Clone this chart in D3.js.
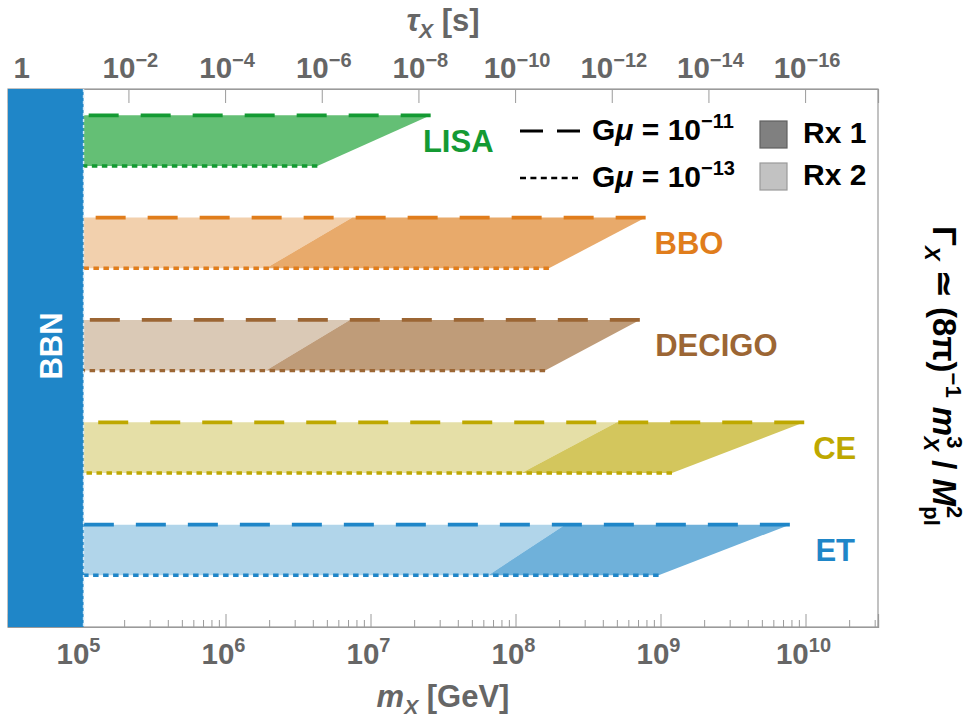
<!DOCTYPE html>
<html><head><meta charset="utf-8">
<script src="https://cdn.jsdelivr.net/npm/d3@7"></script>
<style>
body{margin:0;background:#fff}
text{font-family:"Liberation Sans",Arial,Helvetica,sans-serif;font-weight:bold}
</style></head>
<body><svg id="c" width="969" height="718"></svg>
<script>
// ---------- data ----------
const detectors = ["LISA","BBO","DECIGO","CE","ET"];
// maximal reachable mass [GeV] for Gmu = 1e-11 (top edge) and 1e-13 (bottom edge)
const massMaxTop    = [2.6e7, 7.9e8, 7.2e8, 9.8e9, 7.8e9];
const massMaxBottom = [4.3e6, 1.7e8, 1.6e8, 1.2e9, 9.7e8];
// boundary between Rx 2 (light, lower masses) and Rx 1 (dark, higher masses)
const massSplitTop    = [2.0e4, 7.5e6, 7.2e6, 5.0e8, 2.2e8];
const massSplitBottom = [1.0e4, 1.9e6, 1.9e6, 1.1e8, 6.5e7];
const labelMass = [2.3e7, 9.1e8, 9.2e8, 1.13e10, 1.17e10];
const lineColors  = ["#149a33","#e07d1c","#9c6634","#bea800","#1f86c8"];
const lightFills  = ["#64bf75","#f2d0ad","#dac9b6","#e5dfa7","#b1d5ea"];
const darkFills   = ["#64bf75","#e8aa6b","#bf9c79","#d3c65d","#6fb1da"];
const bbnMass = 1.05e5;
const massDomain = [Math.pow(10,4.5), Math.pow(10,10.5)];
const massTicks = [1e5,1e6,1e7,1e8,1e9,1e10];
const massTickExp = ["5","6","7","8","9","10"];
const tauTicks = [1,1e-2,1e-4,1e-6,1e-8,1e-10,1e-12,1e-14,1e-16];
const tauTickExp = ["","\u22122","\u22124","\u22126","\u22128","\u221210","\u221212","\u221214","\u221216"];
// tau [s] = hbar * 8 pi * Mpl^2 / m^3  (reduced Planck mass)
const tauOf = m => 6.582e-25 * 8*Math.PI * Math.pow(2.435e18,2) / Math.pow(m,3);

// ---------- layout ----------
const L=8, R=878, T=89, B=627;
const svg = d3.select("#c");
const x = d3.scaleLog().domain(massDomain).range([L,R]);
const xTau = d3.scaleLog().domain(massDomain.map(tauOf)).range([L,R]);
const y = d3.scaleBand().domain(detectors).range([T,B])
  .paddingInner(0.505).paddingOuter(0.381).align(0.337);
const bw = y.bandwidth();

svg.append("defs").append("clipPath").attr("id","clip")
  .append("rect").attr("x",L).attr("y",T).attr("width",R-L).attr("height",B-T);

const axisCol = "#9a9a9a", labCol = "#666";

// frame
svg.append("rect").attr("x",L).attr("y",T).attr("width",R-L).attr("height",B-T)
  .attr("fill","none").attr("stroke",axisCol).attr("stroke-width",1.2);

// bottom axis: minor ticks
const minor = [];
for (let e=4;e<=10;e++) for (let k=2;k<=9;k++){ const v=k*Math.pow(10,e); if(v>massDomain[0]&&v<massDomain[1]) minor.push(v); }
const gMinor = svg.append("g").attr("transform",`translate(0,${B})`)
  .call(d3.axisBottom(x).tickValues(minor).tickSize(-7).tickFormat(""));
const gMajor = svg.append("g").attr("transform",`translate(0,${B})`)
  .call(d3.axisBottom(x).tickValues(massTicks).tickSize(-13).tickFormat(""));
const gTop = svg.append("g").attr("transform",`translate(0,${T})`)
  .call(d3.axisTop(xTau).tickValues(tauTicks).tickSize(-14).tickFormat(""));
[gMinor,gMajor,gTop].forEach(g=>{
  g.select(".domain").attr("stroke",axisCol).attr("stroke-width",1.2);
  g.selectAll(".tick line").attr("stroke",axisCol).attr("stroke-width",1);
});

// bottom tick labels
massTicks.forEach((v,i)=>{
  const t = svg.append("text").attr("x",x(v)-2).attr("y",664).attr("text-anchor","middle")
    .attr("fill",labCol).attr("font-size",29.5);
  t.append("tspan").text("10");
  t.append("tspan").attr("dy",-12).attr("font-size",20).text(massTickExp[i]);
});
// top tick labels
tauTicks.forEach((v,i)=>{
  const t = svg.append("text").attr("x",xTau(v)+(i===0?-10:2)).attr("y",78).attr("text-anchor","middle")
    .attr("fill",labCol).attr("font-size",29.5);
  if (i===0) { t.text("1"); return; }
  t.append("tspan").text("10");
  t.append("tspan").attr("dy",-11).attr("font-size",20).text(tauTickExp[i]);
});

// axis titles
const tt = svg.append("text").attr("x",(L+R)/2).attr("y",31).attr("text-anchor","middle")
  .attr("fill",labCol).attr("font-size",31);
tt.append("tspan").attr("font-style","italic").text("\u03c4");
tt.append("tspan").attr("font-style","italic").attr("font-size",21).attr("dy",7).text("X");
tt.append("tspan").attr("dy",-7).text(" [s]");

const bt = svg.append("text").attr("x",(L+R)/2).attr("y",707).attr("text-anchor","middle")
  .attr("fill",labCol).attr("font-size",31);
bt.append("tspan").attr("font-style","italic").text("m");
bt.append("tspan").attr("font-style","italic").attr("font-size",21).attr("dy",7).text("X");
bt.append("tspan").attr("dy",-7).text(" [GeV]");

// right title
const rt = svg.append("text").attr("transform","translate(933,376) rotate(90)")
  .attr("text-anchor","middle").attr("fill","#000").attr("font-size",33);
rt.append("tspan").text("\u0393");
rt.append("tspan").attr("font-style","italic").attr("font-size",22).attr("dy",8).text("X");
rt.append("tspan").attr("dy",-8).text(" \u2243 (8\u03c0)");
rt.append("tspan").attr("font-size",22).attr("dy",-13).text("\u22121");
rt.append("tspan").attr("dy",13).text("  ");
rt.append("tspan").attr("font-style","italic").text("m");
rt.append("tspan").attr("font-size",22).attr("dy",-14).text("3");
rt.append("tspan").attr("font-style","italic").attr("font-size",22).attr("dx",-12).attr("dy",23).text("X");
rt.append("tspan").attr("dy",-9).text(" / ");
rt.append("tspan").attr("font-style","italic").text("M");
rt.append("tspan").attr("font-size",22).attr("dy",-14).text("2");
rt.append("tspan").attr("font-size",22).attr("dx",-12).attr("dy",23).text("pl");

// ---------- regions ----------
const plot = svg.append("g").attr("clip-path","url(#clip)");
const line = d3.line().x(d=>x(d[0])).y(d=>d[1]);
detectors.forEach((name,i)=>{
  const yt = y(name), yb = y(name)+bw;
  const m0 = massDomain[0];
  plot.append("path").attr("d", line([[m0,yt],[massSplitTop[i],yt],[massSplitBottom[i],yb],[m0,yb]])+"Z")
    .attr("fill",lightFills[i]);
  plot.append("path").attr("d", line([[massSplitTop[i],yt],[massMaxTop[i],yt],[massMaxBottom[i],yb],[massSplitBottom[i],yb]])+"Z")
    .attr("fill",darkFills[i]);
  // dashed: Gmu = 1e-11 (drawn from the right end)
  plot.append("path").attr("d", line([[massMaxTop[i],yt],[m0,yt]]))
    .attr("fill","none").attr("stroke",lineColors[i]).attr("stroke-width",3.8)
    .attr("stroke-dasharray","30 22");
  // dotted: Gmu = 1e-13
  plot.append("path").attr("d", line([[massMaxBottom[i],yb],[m0,yb]]))
    .attr("fill","none").attr("stroke",lineColors[i]).attr("stroke-width",3.4)
    .attr("stroke-dasharray","5.5 4.5");
  svg.append("text").attr("x",x(labelMass[i])).attr("y",yt+bw/2).attr("dy","0.36em")
    .attr("fill",lineColors[i]).attr("font-size",31).text(name);
});

// BBN band
svg.append("rect").attr("x",x(massDomain[0])).attr("y",T).attr("width",x(bbnMass)-x(massDomain[0])).attr("height",B-T)
  .attr("fill","#1f86c8");
svg.append("line").attr("x1",x(bbnMass)).attr("x2",x(bbnMass)).attr("y1",T).attr("y2",B)
  .attr("stroke","#d4e8f6").attr("stroke-width",1.5).attr("stroke-dasharray","3 3");
svg.append("text").attr("transform",`translate(${(x(massDomain[0])+x(bbnMass))/2+16},346) rotate(-90)`)
  .attr("text-anchor","middle").attr("fill","#fff").attr("font-size",31).text("BBN");

// ---------- legend ----------
const lg = svg.append("g");
lg.append("line").attr("x1",520).attr("x2",580).attr("y1",131).attr("y2",131)
  .attr("stroke","#000").attr("stroke-width",3).attr("stroke-dasharray","23 14");
lg.append("line").attr("x1",520).attr("x2",578).attr("y1",178).attr("y2",178)
  .attr("stroke","#000").attr("stroke-width",2.6).attr("stroke-dasharray","6 4.4");
[["\u221211",140],["\u221213",187]].forEach(([e,yy])=>{
  const t = lg.append("text").attr("x",592).attr("y",yy).attr("font-size",30).attr("fill","#000");
  t.append("tspan").text("G");
  t.append("tspan").attr("font-style","italic").text("\u03bc");
  t.append("tspan").text(" = 10");
  t.append("tspan").attr("dy",-12).attr("font-size",20).text(e);
});
[["#808080","#606060","Rx 1",121,143],["#c2c2c2","#9a9a9a","Rx 2",163,185]].forEach(([f,s,lab,yy,ty])=>{
  lg.append("rect").attr("x",760).attr("y",yy).attr("width",27).attr("height",27)
    .attr("fill",f).attr("stroke",s).attr("stroke-width",1.2);
  lg.append("text").attr("x",803).attr("y",ty).attr("font-size",30).attr("fill","#000").text(lab);
});
</script></body></html>
